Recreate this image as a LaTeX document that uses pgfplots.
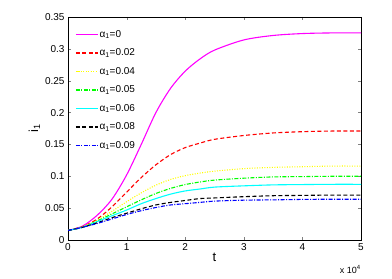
\documentclass[border=0pt]{standalone}
\usepackage{fontspec}
\setmainfont{Liberation Sans}
\usepackage{pgfplots}
\pgfplotsset{compat=1.18}
\definecolor{mmag}{rgb}{1,0,1}
\definecolor{mcyan}{rgb}{0,1,1}
\definecolor{mblue}{rgb}{0,0,1}
\definecolor{mgreen}{rgb}{0,1,0}
\definecolor{myellow}{rgb}{1,1,0}
\definecolor{mred}{rgb}{1,0,0}
\begin{document}
\begin{tikzpicture}
\begin{axis}[
  scale only axis, width=293pt, height=223pt,
  xmin=0, xmax=5, ymin=0, ymax=0.35,
  xtick={0,1,2,3,4,5}, ytick={0,0.05,0.1,0.15,0.2,0.25,0.3,0.35},
  yticklabels={0,0.05,0.1,0.15,0.2,0.25,0.3,0.35},
  xticklabels={0,1,2,3,4,5},
  tick align=inside, major tick length=3pt,
  xtick pos=both, ytick pos=both,
  tick label style={font=\fontsize{10}{11}\selectfont},
  /pgf/number format/assume math mode=true,
  axis line style={line width=0.8pt},
  xlabel={t}, ylabel={i\textsubscript{1}},
  xlabel style={font=\fontsize{13}{14}\selectfont, yshift=4pt},
  ylabel style={font=\fontsize{13}{14}\selectfont, yshift=-2pt},
  legend style={at={(0.02,0.955)}, anchor=north west, draw=none, fill=none,
    font=\fontsize{10}{11}\selectfont, row sep=6pt, inner sep=1pt,
    nodes={inner xsep=1pt}},
  legend cell align=left,
  legend image code/.code={\draw[#1, line width=1.5pt] plot coordinates {(0pt,0pt) (22pt,0pt)};},
  every axis plot/.append style={line width=1.1pt},
]
\addplot[color=mmag, smooth] coordinates {(0,0.015)(0.25,0.022)(0.5,0.039)(0.75,0.064)(1,0.102)(1.25,0.150)(1.5,0.200)(1.75,0.238)(2,0.265)(2.25,0.284)(2.5,0.298)(3,0.314)(3.5,0.321)(4,0.324)(4.5,0.325)(5,0.325)};
\addlegendentry{α\textsubscript{1}=0}
\addplot[color=mred, smooth, dash pattern=on 4pt off 2.5pt] coordinates {(0,0.015)(0.25,0.021)(0.5,0.033)(0.75,0.052)(1,0.075)(1.25,0.098)(1.5,0.118)(1.75,0.134)(2,0.145)(2.25,0.152)(2.5,0.158)(3,0.164)(3.5,0.168)(4,0.170)(4.5,0.171)(5,0.171)};
\addlegendentry{α\textsubscript{1}=0.02}
\addplot[color=myellow, smooth, dash pattern=on 1pt off 1.5pt] coordinates {(0,0.015)(0.25,0.021)(0.5,0.031)(0.75,0.045)(1,0.060)(1.25,0.074)(1.5,0.086)(1.75,0.095)(2,0.101)(2.25,0.105)(2.5,0.108)(3,0.112)(3.5,0.114)(4,0.115)(4.5,0.116)(5,0.116)};
\addlegendentry{α\textsubscript{1}=0.04}
\addplot[color=mgreen, smooth, dash pattern=on 4pt off 1.5pt on 1pt off 1.5pt] coordinates {(0,0.015)(0.25,0.020)(0.5,0.030)(0.75,0.041)(1,0.052)(1.25,0.063)(1.5,0.073)(1.75,0.081)(2,0.087)(2.25,0.091)(2.5,0.094)(3,0.097)(3.5,0.099)(4,0.0995)(4.5,0.100)(5,0.100)};
\addlegendentry{α\textsubscript{1}=0.05}
\addplot[color=mcyan, smooth] coordinates {(0,0.015)(0.25,0.020)(0.5,0.029)(0.75,0.038)(1,0.047)(1.25,0.057)(1.5,0.065)(1.75,0.072)(2,0.077)(2.25,0.080)(2.5,0.083)(3,0.085)(3.5,0.0865)(4,0.087)(4.5,0.0874)(5,0.0874)};
\addlegendentry{α\textsubscript{1}=0.06}
\addplot[color=black, smooth, dash pattern=on 4pt off 2.5pt] coordinates {(0,0.015)(0.25,0.020)(0.5,0.027)(0.75,0.035)(1,0.042)(1.25,0.049)(1.5,0.055)(1.75,0.059)(2,0.062)(2.25,0.065)(2.5,0.066)(3,0.068)(3.5,0.0695)(4,0.070)(4.5,0.0705)(5,0.0705)};
\addlegendentry{α\textsubscript{1}=0.08}
\addplot[color=mblue, smooth, dash pattern=on 4pt off 1.5pt on 1pt off 1.5pt] coordinates {(0,0.015)(0.25,0.020)(0.5,0.026)(0.75,0.033)(1,0.040)(1.25,0.046)(1.5,0.051)(1.75,0.055)(2,0.057)(2.25,0.059)(2.5,0.061)(3,0.0625)(3.5,0.063)(4,0.0637)(4.5,0.064)(5,0.064)};
\addlegendentry{α\textsubscript{1}=0.09}
\end{axis}
\node[anchor=north east, font=\fontsize{9}{10}\selectfont, inner sep=0pt] at ([xshift=0pt,yshift=-25pt]current axis.south east) {x 10\textsuperscript{4}};
\path (current axis.south west) ++(-68pt,-39pt) coordinate (bl);
\path (current axis.north east) ++(31pt,17pt) coordinate (tr);
\useasboundingbox (bl) rectangle (tr);
\end{tikzpicture}
\end{document}
